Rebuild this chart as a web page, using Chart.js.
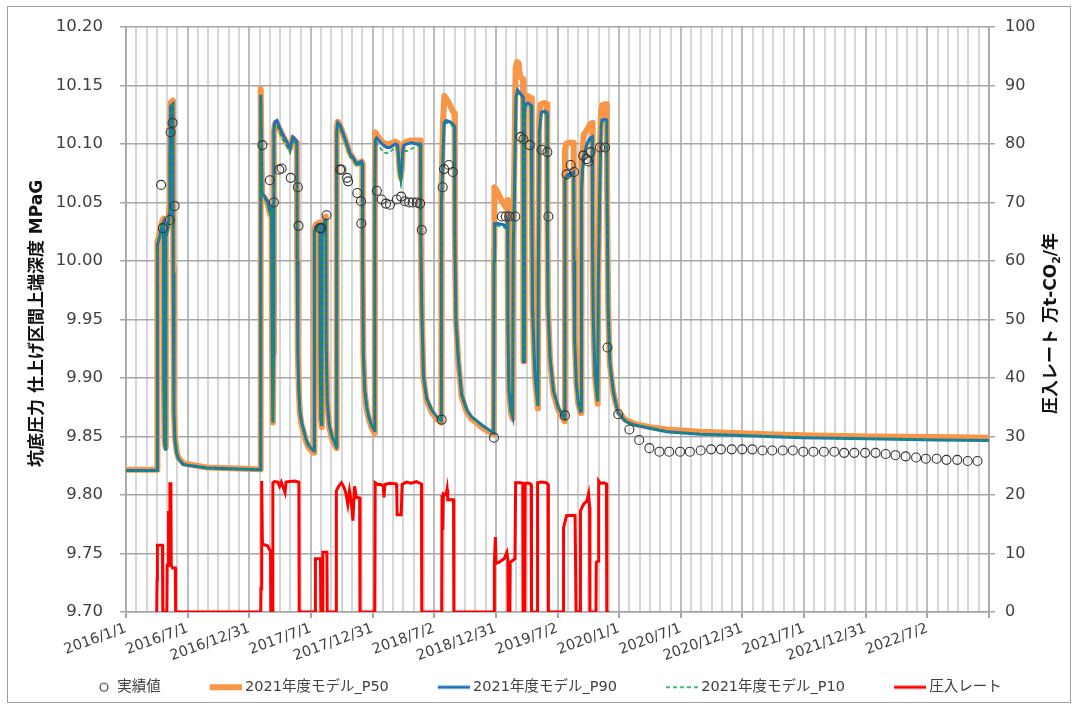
<!DOCTYPE html>
<html lang="ja">
<head>
<meta charset="utf-8">
<title>坑底圧力と圧入レート</title>
<script src="https://cdn.jsdelivr.net/npm/chart.js@4.4.1/dist/chart.umd.min.js"></script>
<style>
  html, body { margin: 0; padding: 0; background: #ffffff; }
  canvas { display: block; }
</style>
</head>
<body>
<canvas id="chart" width="1078" height="707"></canvas>
<script>
// ---- data (x = days since 2016/1/1) ----------------------------------------

// Date-axis labels, one every half year
const tickLabels = ['2016/1/1', '2016/7/1', '2016/12/31', '2017/7/1', '2017/12/31', '2018/7/2',
  '2018/12/31', '2019/7/2', '2020/1/1', '2020/7/1', '2020/12/31', '2021/7/1', '2021/12/31', '2022/7/2'];

// Measured bottom-hole pressure (MPaG)
const observed = [
  [104, 10.065], [109, 10.028], [130, 10.035], [132, 10.110], [138, 10.118], [144, 10.047],
  [404, 10.099], [426, 10.069], [438, 10.050], [454, 10.078], [461, 10.079], [488, 10.071],
  [509, 10.063], [511, 10.030], [574, 10.028], [579, 10.028], [594, 10.039],
  [634, 10.078], [638, 10.078], [655, 10.071], [658, 10.068], [685, 10.058], [696, 10.051], [697, 10.032],
  [743, 10.060], [757, 10.0525], [770, 10.049], [782, 10.048], [802, 10.0525], [815, 10.055],
  [826, 10.051], [839, 10.050], [849, 10.050], [861, 10.050], [871, 10.049], [876, 10.0265],
  [935, 9.8644], [938, 10.063], [942, 10.0785], [956, 10.082], [968, 10.076],
  [1090, 9.849], [1113, 10.038], [1125, 10.038], [1135, 10.038], [1153, 10.038],
  [1169, 10.106], [1177, 10.104], [1196, 10.099], [1231, 10.095], [1248, 10.093], [1251, 10.038],
  [1300, 9.868], [1305, 10.074], [1317, 10.082], [1327, 10.076], [1354, 10.090], [1364, 10.087],
  [1369, 10.085], [1376, 10.093], [1404, 10.097], [1419, 10.097], [1426, 9.926],
  [1458, 9.869], [1491, 9.856], [1520, 9.847], [1550, 9.840], [1580, 9.837], [1609, 9.837],
  [1641, 9.837], [1670, 9.837], [1702, 9.838], [1733, 9.839], [1762, 9.839], [1794, 9.839],
  [1825, 9.839], [1855, 9.839], [1885, 9.838], [1914, 9.838], [1945, 9.838], [1975, 9.838],
  [2006, 9.837], [2036, 9.837], [2067, 9.837], [2098, 9.837], [2127, 9.836], [2157, 9.836],
  [2189, 9.836], [2220, 9.836], [2250, 9.835], [2279, 9.834], [2309, 9.833], [2340, 9.832],
  [2369, 9.831], [2401, 9.831], [2430, 9.830], [2462, 9.830], [2493, 9.829], [2522, 9.829]
];

// 2021 model, P50 case
const p50 = [
  [0, 9.8215], [92, 9.8215], [93, 10.016], [100, 10.024], [106, 10.033], [111, 10.036], [112, 9.905], [114, 9.847], [117, 9.841],
  [118, 10.023], [125, 10.033], [128, 10.045], [130, 10.095], [132, 10.135], [139, 10.137], [140, 9.995], [142, 9.873], [145, 9.849],
  [150, 9.837], [155, 9.832], [170, 9.827], [240, 9.8235], [398, 9.822],
  [399, 10.147], [401, 10.103], [403, 10.057], [410, 10.054], [418, 10.050], [424, 10.043], [428, 10.039], [431, 10.042],
  [433, 9.922], [435, 9.862], [437, 9.922], [438, 10.110], [441, 10.117], [447, 10.118], [456, 10.112], [466, 10.106], [476, 10.101],
  [486, 10.096], [494, 10.105], [500, 10.103], [506, 10.101], [507, 10.000], [509, 9.920], [512, 9.888], [515, 9.870], [520, 9.860],
  [525, 9.855], [533, 9.846], [540, 9.841], [548, 9.838], [557, 9.836],
  [558, 10.027], [562, 10.031], [574, 10.033], [575, 9.922], [577, 9.865], [580, 9.858], [581, 10.022], [584, 10.032], [590, 10.037],
  [592, 10.038], [593, 9.930], [596, 9.878], [602, 9.858], [610, 9.848], [618, 9.843], [623, 9.840],
  [624, 10.114], [627, 10.119], [634, 10.116], [644, 10.108], [654, 10.100], [663, 10.092], [673, 10.088], [683, 10.083], [690, 10.084],
  [698, 10.085], [700, 10.083], [701, 10.000], [703, 9.920], [707, 9.888], [713, 9.873], [720, 9.864], [728, 9.857], [736, 9.853],
  [737, 10.065], [738, 10.110], [742, 10.108], [752, 10.104], [762, 10.101], [772, 10.100], [782, 10.100], [797, 10.102], [804, 10.101],
  [807, 10.092], [810, 10.078], [814, 10.071], [817, 10.079], [820, 10.097], [823, 10.101], [833, 10.102], [846, 10.103], [860, 10.103],
  [872, 10.103], [873, 10.020], [876, 9.958], [881, 9.900], [890, 9.881], [905, 9.871], [920, 9.865], [933, 9.862],
  [934, 10.060], [936, 10.080], [939, 10.120], [943, 10.141], [950, 10.138], [960, 10.133], [968, 10.128], [973, 10.126], [974, 10.025],
  [977, 9.950], [984, 9.915], [994, 9.884], [1009, 9.871], [1023, 9.865], [1038, 9.862], [1053, 9.858], [1068, 9.855], [1089, 9.852],
  [1090, 10.010], [1091, 10.063], [1100, 10.059], [1110, 10.053], [1120, 10.048], [1127, 10.045], [1130, 10.052], [1131, 9.955], [1134, 9.890],
  [1140, 9.870], [1145, 9.865], [1147, 10.020], [1150, 10.080], [1154, 10.165], [1158, 10.170], [1163, 10.169], [1166, 10.160], [1170, 10.157], [1176, 10.155],
  [1177, 9.914], [1179, 9.914], [1180, 10.130], [1182, 10.140], [1190, 10.141], [1200, 10.139], [1202, 10.055], [1204, 9.960],
  [1211, 9.901], [1217, 9.883], [1220, 9.874], [1221, 9.990], [1224, 10.120], [1228, 10.134], [1240, 10.135], [1247, 10.134],
  [1248, 10.035], [1250, 9.960], [1256, 9.915], [1266, 9.887], [1280, 9.873], [1295, 9.865], [1299, 9.863],
  [1300, 10.095], [1303, 10.100], [1310, 10.101], [1320, 10.101], [1326, 10.101], [1327, 10.010], [1329, 9.935], [1334, 9.895],
  [1340, 9.877], [1346, 9.870], [1348, 9.870], [1349, 10.085], [1352, 10.095], [1356, 10.108], [1365, 10.112], [1375, 10.117],
  [1381, 10.118], [1382, 10.015], [1384, 9.950], [1389, 9.901], [1397, 9.878], [1399, 9.990], [1403, 10.090], [1407, 10.128],
  [1410, 10.133], [1420, 10.134], [1424, 10.134], [1425, 10.055], [1428, 9.960], [1433, 9.912], [1443, 9.888], [1450, 9.879],
  [1458, 9.871], [1470, 9.867], [1480, 9.864], [1503, 9.861], [1552, 9.858], [1601, 9.856], [1700, 9.854], [1800, 9.853],
  [1900, 9.852], [2000, 9.851], [2200, 9.850], [2400, 9.8495], [2556, 9.849]
];

// 2021 model, P90 case
const p90 = [
  [0, 9.821], [92, 9.821], [93, 10.014], [100, 10.021], [106, 10.030], [111, 10.033], [112, 9.900], [114, 9.845], [117, 9.839],
  [118, 10.020], [125, 10.030], [128, 10.040], [130, 10.090], [132, 10.132], [139, 10.134], [140, 9.990], [142, 9.870], [145, 9.847],
  [150, 9.836], [155, 9.831], [170, 9.826], [240, 9.823], [398, 9.8215],
  [399, 10.142], [401, 10.100], [403, 10.058], [410, 10.055], [418, 10.052], [424, 10.045], [428, 10.041], [431, 10.044],
  [433, 9.920], [435, 9.862], [437, 9.920], [438, 10.112], [441, 10.119], [447, 10.120], [456, 10.113], [466, 10.107], [476, 10.102],
  [486, 10.096], [494, 10.106], [500, 10.104], [506, 10.102], [507, 10.000], [509, 9.920], [512, 9.890], [515, 9.872], [520, 9.862],
  [525, 9.857], [533, 9.848], [540, 9.843], [548, 9.840], [557, 9.8375],
  [558, 10.025], [562, 10.029], [574, 10.031], [575, 9.920], [577, 9.865], [580, 9.859], [581, 10.020], [584, 10.030], [590, 10.035],
  [592, 10.036], [593, 9.930], [596, 9.880], [602, 9.860], [610, 9.850], [618, 9.845], [623, 9.841],
  [624, 10.110], [627, 10.118], [634, 10.116], [644, 10.108], [654, 10.100], [663, 10.092], [673, 10.088], [683, 10.083], [690, 10.084],
  [698, 10.085], [700, 10.083], [701, 10.000], [703, 9.920], [707, 9.890], [713, 9.875], [720, 9.866], [728, 9.859], [736, 9.855],
  [737, 10.060], [738, 10.103], [742, 10.105], [752, 10.102], [762, 10.099], [772, 10.097], [782, 10.097], [797, 10.100], [804, 10.099],
  [807, 10.090], [810, 10.077], [814, 10.070], [817, 10.078], [820, 10.095], [823, 10.099], [833, 10.100], [846, 10.101], [860, 10.100],
  [872, 10.100], [873, 10.020], [876, 9.960], [881, 9.902], [890, 9.883], [905, 9.873], [920, 9.867], [933, 9.8635],
  [934, 10.050], [936, 10.064], [939, 10.090], [942, 10.118], [948, 10.120], [958, 10.119], [968, 10.117], [973, 10.115], [974, 10.020],
  [977, 9.950], [984, 9.917], [994, 9.886], [1009, 9.873], [1023, 9.867], [1038, 9.8635], [1053, 9.860], [1068, 9.857], [1089, 9.853],
  [1090, 10.000], [1092, 10.032], [1100, 10.032], [1117, 10.031], [1127, 10.029], [1130, 10.033], [1131, 9.950], [1134, 9.890],
  [1140, 9.872], [1145, 9.867], [1147, 10.010], [1150, 10.050], [1155, 10.140], [1160, 10.146], [1168, 10.143], [1176, 10.140],
  [1177, 9.914], [1179, 9.914], [1180, 10.120], [1182, 10.133], [1190, 10.135], [1200, 10.133], [1202, 10.050], [1204, 9.960],
  [1211, 9.903], [1217, 9.885], [1220, 9.876], [1221, 9.980], [1224, 10.110], [1230, 10.127], [1240, 10.128], [1247, 10.127],
  [1248, 10.030], [1250, 9.960], [1256, 9.917], [1266, 9.889], [1280, 9.875], [1295, 9.867], [1299, 9.865],
  [1300, 10.069], [1303, 10.072], [1310, 10.074], [1320, 10.075], [1326, 10.076], [1327, 10.000], [1329, 9.930], [1334, 9.895],
  [1340, 9.878], [1346, 9.8715], [1348, 9.872], [1349, 10.060], [1352, 10.077], [1356, 10.089], [1365, 10.100], [1375, 10.105],
  [1381, 10.106], [1382, 10.010], [1384, 9.950], [1389, 9.903], [1397, 9.880], [1399, 9.980], [1403, 10.060], [1407, 10.115],
  [1410, 10.1205], [1420, 10.121], [1424, 10.1205], [1425, 10.050], [1428, 9.960], [1433, 9.913], [1443, 9.889], [1450, 9.879],
  [1458, 9.870], [1470, 9.866], [1480, 9.863], [1503, 9.860], [1552, 9.857], [1601, 9.854], [1700, 9.852], [1800, 9.851],
  [1900, 9.850], [2000, 9.849], [2200, 9.848], [2400, 9.847], [2556, 9.8465]
];

// 2021 model, P10 case
const p10 = [
  [0, 9.821], [92, 9.821], [93, 10.013], [100, 10.020], [106, 10.029], [111, 10.032], [112, 9.900], [114, 9.845], [117, 9.839],
  [118, 10.019], [125, 10.029], [128, 10.039], [130, 10.088], [132, 10.130], [139, 10.133], [140, 9.990], [142, 9.870], [145, 9.847],
  [150, 9.836], [155, 9.831], [170, 9.826], [240, 9.823], [398, 9.8215],
  [399, 10.140], [401, 10.098], [403, 10.056], [410, 10.053], [418, 10.050], [424, 10.043], [428, 10.039], [431, 10.042],
  [433, 9.920], [435, 9.862], [437, 9.920], [438, 10.110], [441, 10.116], [447, 10.116], [456, 10.109], [466, 10.103], [476, 10.098],
  [486, 10.092], [494, 10.102], [500, 10.101], [506, 10.100], [507, 10.000], [509, 9.920], [512, 9.890], [515, 9.872], [520, 9.862],
  [525, 9.857], [533, 9.848], [540, 9.843], [548, 9.840], [557, 9.8375],
  [558, 10.024], [562, 10.028], [574, 10.030], [575, 9.920], [577, 9.865], [580, 9.859], [581, 10.019], [584, 10.029], [590, 10.034],
  [592, 10.035], [593, 9.930], [596, 9.880], [602, 9.860], [610, 9.850], [618, 9.845], [623, 9.841],
  [624, 10.108], [627, 10.116], [634, 10.113], [644, 10.105], [654, 10.097], [663, 10.089], [673, 10.086], [683, 10.081], [690, 10.082],
  [698, 10.083], [700, 10.081], [701, 10.000], [703, 9.920], [707, 9.890], [713, 9.875], [720, 9.866], [728, 9.859], [736, 9.855],
  [737, 10.058], [738, 10.100], [742, 10.101], [752, 10.097], [762, 10.093], [772, 10.092], [782, 10.093], [797, 10.097], [804, 10.096],
  [807, 10.086], [810, 10.073], [814, 10.066], [817, 10.074], [820, 10.090], [823, 10.094], [833, 10.094], [846, 10.096], [860, 10.098],
  [872, 10.099], [873, 10.020], [876, 9.960], [881, 9.902], [890, 9.883], [905, 9.873], [920, 9.867], [933, 9.8635],
  [934, 10.048], [936, 10.062], [939, 10.088], [942, 10.116], [948, 10.118], [958, 10.117], [968, 10.115], [973, 10.113], [974, 10.020],
  [977, 9.950], [984, 9.917], [994, 9.886], [1009, 9.873], [1023, 9.867], [1038, 9.8635], [1053, 9.860], [1068, 9.857], [1089, 9.853],
  [1090, 10.000], [1092, 10.030], [1100, 10.030], [1117, 10.029], [1127, 10.027], [1130, 10.031], [1131, 9.950], [1134, 9.890],
  [1140, 9.872], [1145, 9.867], [1147, 10.008], [1150, 10.048], [1155, 10.138], [1160, 10.144], [1168, 10.141], [1176, 10.138],
  [1177, 9.914], [1179, 9.914], [1180, 10.118], [1182, 10.131], [1190, 10.133], [1200, 10.131], [1202, 10.050], [1204, 9.960],
  [1211, 9.903], [1217, 9.885], [1220, 9.876], [1221, 9.978], [1224, 10.108], [1230, 10.125], [1240, 10.126], [1247, 10.125],
  [1248, 10.030], [1250, 9.960], [1256, 9.917], [1266, 9.889], [1280, 9.875], [1295, 9.867], [1299, 9.865],
  [1300, 10.067], [1303, 10.070], [1310, 10.072], [1320, 10.073], [1326, 10.074], [1327, 10.000], [1329, 9.930], [1334, 9.895],
  [1340, 9.878], [1346, 9.8715], [1348, 9.872], [1349, 10.058], [1352, 10.075], [1356, 10.087], [1365, 10.098], [1375, 10.103],
  [1381, 10.104], [1382, 10.010], [1384, 9.950], [1389, 9.903], [1397, 9.880], [1399, 9.978], [1403, 10.058], [1407, 10.113],
  [1410, 10.118], [1420, 10.119], [1424, 10.118], [1425, 10.050], [1428, 9.960], [1433, 9.913], [1443, 9.889], [1450, 9.879],
  [1458, 9.870], [1470, 9.866], [1480, 9.863], [1503, 9.860], [1552, 9.857], [1601, 9.854], [1700, 9.852], [1800, 9.851],
  [1900, 9.850], [2000, 9.849], [2200, 9.848], [2400, 9.847], [2556, 9.8465]
];

// Injection rate (10^4 t-CO2 / year)
const injectionRate = [
  [91, 0], [92, 5.5], [93, 11.4], [108, 11.4], [109, 0], [121, 0], [122, 8], [125, 8], [126, 17], [129, 17],
  [130, 21.9], [133, 21.9], [134, 8], [138, 7.5], [146, 7.5], [147, 0],
  [399, 0], [400, 4], [402, 22.4], [404, 11.6], [410, 11.5], [420, 11.3], [425, 10.6], [428, 10.5], [429, 0], [434, 0],
  [435, 22.1], [440, 22.3], [450, 22.2], [455, 21.5], [460, 22.2], [471, 20.4], [474, 22.2], [485, 22.3], [500, 22.4], [512, 22.2], [513, 0],
  [560, 0], [561, 9.1], [576, 9.1], [577, 0], [582, 0], [583, 10.2], [595, 10.2], [596, 0],
  [622, 0], [623, 20.7], [630, 21.5], [638, 22.1], [645, 21.4], [651, 20.4], [657, 18.4], [662, 20.7], [667, 19.0],
  [672, 15.6], [677, 21.5], [682, 19.6], [692, 19.5], [693, 0],
  [737, 0], [738, 22.1], [745, 21.8], [755, 21.8], [762, 21.5], [764, 19.6], [767, 21.8], [780, 22.0], [800, 21.9],
  [802, 21.0], [803, 16.6], [815, 16.6], [818, 21.8], [830, 22.2], [845, 22.0], [860, 22.3], [875, 21.9], [876, 0],
  [935, 0], [936, 20.0], [938, 14], [940, 20.2], [948, 20.0], [951, 21.0], [953, 19.2], [970, 19.2], [971, 0],
  [1090, 0], [1091, 8.3], [1094, 12.8], [1096, 8.3], [1105, 8.5], [1120, 9.1], [1128, 10.2], [1131, 9], [1132, 0],
  [1137, 0], [1138, 8.5], [1145, 8.8], [1152, 9.1], [1154, 22.1], [1168, 22.1], [1175, 22], [1176, 0], [1181, 0],
  [1182, 22], [1195, 22], [1200, 21.8], [1201, 0], [1218, 0], [1219, 22.1], [1230, 22.2], [1245, 22.1], [1250, 21.8], [1251, 0],
  [1295, 0], [1296, 14.4], [1305, 16.5], [1330, 16.5], [1333, 0], [1345, 0], [1346, 17.3], [1355, 18.4], [1365, 19.0],
  [1370, 20.2], [1373, 18], [1374, 0], [1392, 0], [1393, 8.5], [1398, 8.7], [1400, 22.4], [1405, 22.0], [1415, 22.1],
  [1423, 21.9], [1424, 0], [1430, 0]
];

// ---- layout & styling -------------------------------------------------------

const FONT = "'DejaVu Sans', 'Noto Sans CJK JP', sans-serif";
const AXIS_DAYS = 2556;                 // 2016/1/1 .. 2022/12/31
const GRID_COUNT = 84;                  // monthly grid lines
const PLOT = { left: 126, right: 989, top: 23, bottom: 612 };
const PAD_LEFT = 33;
const X_AXIS_HEIGHT = 53;
const LEGEND_SLOT = 62;                 // width reserved for each legend symbol
const ICON_W = 70;                      // symbol canvas, reaching just short of the label text

Chart.defaults.font.family = FONT;

const toXY = rows => rows.map(([x, y]) => ({ x, y }));

// legend symbols, drawn at the right-hand end of the symbol canvas
function lineIcon(color, width, dash) {
  const c = document.createElement('canvas');
  c.width = ICON_W; c.height = 10;
  const g = c.getContext('2d');
  g.strokeStyle = color; g.lineWidth = width; g.setLineDash(dash || []);
  g.beginPath(); g.moveTo(ICON_W - 32, 5); g.lineTo(ICON_W, 5); g.stroke();
  return c;
}
function circleIcon() {
  const c = document.createElement('canvas');
  c.width = ICON_W; c.height = 12;
  const g = c.getContext('2d');
  g.strokeStyle = '#333333'; g.lineWidth = 1.1;
  g.beginPath(); g.arc(ICON_W - 10, 6, 4, 0, Math.PI * 2); g.stroke();
  return c;
}
const legendIcons = [
  circleIcon(),
  lineIcon('#f79646', 6),
  lineIcon('#1f70b8', 3),
  lineIcon('#00a650', 1.5, [4, 3]),
  lineIcon('#ff0000', 3)
];

// Outer frame of the figure
const framePlugin = {
  id: 'frame',
  beforeDraw(chart) {
    const g = chart.ctx;
    g.save();
    g.fillStyle = '#ffffff';
    g.fillRect(0, 0, chart.width, chart.height);
    g.strokeStyle = '#a0a0a0';
    g.lineWidth = 1;
    g.strokeRect(7.5, 6.5, 1063, 696);
    g.restore();
  }
};

// Axis titles, both reading bottom-to-top
const axisTitlePlugin = {
  id: 'axisTitles',
  afterDraw(chart) {
    const g = chart.ctx;
    const midY = (chart.chartArea.top + chart.chartArea.bottom) / 2 + 4;
    g.save();
    g.fillStyle = '#111111';
    g.textBaseline = 'middle';
    g.font = `bold 17px ${FONT}`;

    g.save();
    g.translate(38, midY);
    g.rotate(-Math.PI / 2);
    g.textAlign = 'center';
    g.fillText('坑底圧力 仕上げ区間上端深度 MPaG', 0, 0);
    g.restore();

    const parts = [
      { t: '圧入レート 万t-CO', size: 17, dy: 0 },
      { t: '2', size: 11, dy: 5 },
      { t: '/年', size: 17, dy: 0 }
    ];
    let total = 0;
    parts.forEach(p => { g.font = `bold ${p.size}px ${FONT}`; p.w = g.measureText(p.t).width; total += p.w; });
    g.save();
    g.translate(1052, midY);
    g.rotate(-Math.PI / 2);
    g.textAlign = 'left';
    let x = -total / 2;
    parts.forEach(p => { g.font = `bold ${p.size}px ${FONT}`; g.fillText(p.t, x, p.dy); x += p.w; });
    g.restore();
    g.restore();
  }
};

const chart = new Chart(document.getElementById('chart'), {
  type: 'line',
  data: {
    datasets: [
      {
        label: '実績値', data: toXY(observed), showLine: false, yAxisID: 'y', order: 0,
        pointRadius: 4.5, pointHoverRadius: 4.5, pointBackgroundColor: 'rgba(0,0,0,0)',
        pointBorderColor: '#333333', pointBorderWidth: 1.1
      },
      {
        label: '2021年度モデル_P50', data: toXY(p50), yAxisID: 'y', order: 4,
        borderColor: '#f79646', borderWidth: 6, pointRadius: 0, borderJoinStyle: 'round'
      },
      {
        label: '2021年度モデル_P90', data: toXY(p90), yAxisID: 'y', order: 3,
        borderColor: '#1f70b8', borderWidth: 3, pointRadius: 0
      },
      {
        label: '2021年度モデル_P10', data: toXY(p10), yAxisID: 'y', order: 2,
        borderColor: '#00a650', borderWidth: 1.5, borderDash: [4, 3], pointRadius: 0
      },
      {
        label: '圧入レート', data: toXY(injectionRate), yAxisID: 'y2', order: 1,
        borderColor: '#ff0000', borderWidth: 3, pointRadius: 0
      }
    ]
  },
  options: {
    responsive: false,
    animation: false,
    events: [],
    layout: { padding: { left: PAD_LEFT, right: 0, top: PLOT.top, bottom: 0 } },
    scales: {
      x: {
        type: 'linear',
        min: 0,
        max: AXIS_DAYS,
        afterBuildTicks(scale) {
          scale.ticks = Array.from({ length: GRID_COUNT + 1 }, (_, i) => ({ value: i * AXIS_DAYS / GRID_COUNT }));
        },
        afterFit(scale) { scale.height = X_AXIS_HEIGHT; },
        ticks: {
          autoSkip: false, minRotation: 20, maxRotation: 20, padding: 2,
          color: '#404040', font: { size: 14.5 },
          callback: (v, i) => (i % 6 === 0 ? (tickLabels[i / 6] || '') : '')
        },
        grid: {
          color: c => (c.index % 6 === 0 ? '#bdbdbd' : '#d6d6d6'),
          lineWidth: 2,
          tickLength: 6,
          tickColor: c => (c.index % 6 === 0 ? '#a6a6a6' : 'rgba(0,0,0,0)')
        },
        border: { color: '#a6a6a6', width: 1.5 }
      },
      y: {
        position: 'left',
        min: 9.70,
        max: 10.20,
        afterFit(scale) { scale.width = PLOT.left - PAD_LEFT; },
        ticks: {
          stepSize: 0.05, padding: 17, color: '#404040', font: { size: 16.5 },
          callback: v => v.toFixed(2)
        },
        grid: { color: '#a6a6a6', lineWidth: 1.5, tickLength: 6 },
        border: { color: '#a6a6a6', width: 1.5 }
      },
      y2: {
        position: 'right',
        min: 0,
        max: 100,
        afterFit(scale) { scale.width = 1078 - PLOT.right; },
        ticks: { stepSize: 10, padding: 10, color: '#404040', font: { size: 16 } },
        grid: { drawOnChartArea: false, color: '#a6a6a6', lineWidth: 1.5, tickLength: 6 },
        border: { color: '#a6a6a6', width: 1.5 }
      }
    },
    plugins: {
      tooltip: { enabled: false },
      legend: {
        position: 'bottom',
        align: 'start',
        maxHeight: 50,
        labels: {
          usePointStyle: true,
          pointStyleWidth: LEGEND_SLOT,
          padding: 15,
          color: '#404040',
          font: { size: 14.5 },
          generateLabels: ch => ch.data.datasets.map((ds, i) => ({
            text: ds.label,
            pointStyle: legendIcons[i],
            fillStyle: 'rgba(0,0,0,0)',
            strokeStyle: 'rgba(0,0,0,0)',
            lineWidth: 0,
            hidden: false,
            datasetIndex: i,
            fontColor: '#404040'
          }))
        }
      }
    }
  },
  plugins: [framePlugin, axisTitlePlugin]
});

// keep the plot bottom on its intended line whatever the legend height
const shift = chart.chartArea.bottom - PLOT.bottom;
if (Math.abs(shift) > 0.5) {
  chart.options.layout.padding.bottom += shift;
  chart.update();
}
</script>
</body>
</html>
